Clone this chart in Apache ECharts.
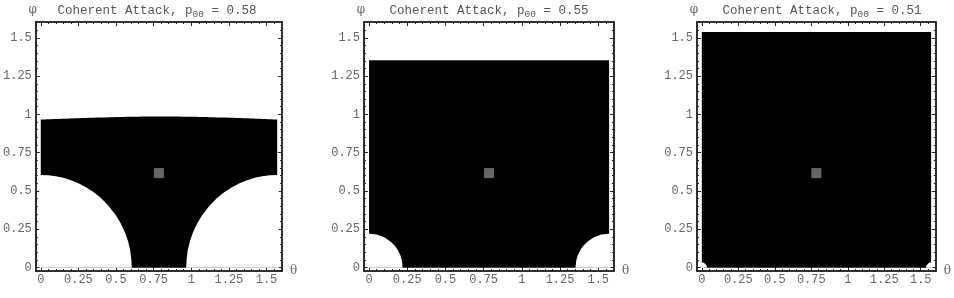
<!DOCTYPE html>
<html>
<head>
<meta charset="utf-8">
<script src="https://cdn.jsdelivr.net/npm/echarts@6/dist/echarts.min.js"></script>
<style>
  html, body { margin: 0; padding: 0; background: #fff; }
  #chart { width: 954px; height: 298px; }
</style>
</head>
<body>
<div id="chart"></div>
<script>
// ticks shared by every frame
const tickValues = [0, 0.25, 0.5, 0.75, 1, 1.25, 1.5];
const tickLabels = ["0", "0.25", "0.5", "0.75", "1", "1.25", "1.5"];
const minorTicks = [0.05, 0.1, 0.15, 0.2, 0.3, 0.35, 0.4, 0.45, 0.55, 0.6, 0.65, 0.7,
                    0.8, 0.85, 0.9, 0.95, 1.05, 1.1, 1.15, 1.2, 1.3, 1.35, 1.4, 1.45, 1.55];

const pValues = ["0.58", "0.55", "0.51"];

// [theta, phi] boundaries
const p1Top = [[0, 0.967], [0.2, 0.974], [0.4, 0.980], [0.6, 0.985], [0.785, 0.987],
               [1.0, 0.985], [1.2, 0.980], [1.4, 0.974], [1.571, 0.967]];
const p1HoleLeft = [[-0.01, 0.605], [0.05, 0.603], [0.1, 0.597], [0.15, 0.586], [0.2, 0.571],
                    [0.25, 0.551], [0.3, 0.525], [0.35, 0.493], [0.4, 0.454], [0.45, 0.404],
                    [0.5, 0.341], [0.53, 0.292], [0.56, 0.229], [0.58, 0.172], [0.595, 0.110],
                    [0.602, 0.05], [0.605, 0]];
const p1HoleRight = [[0.966, 0], [0.969, 0.05], [0.976, 0.110], [0.991, 0.172], [1.011, 0.229],
                     [1.041, 0.292], [1.071, 0.341], [1.121, 0.404], [1.171, 0.454], [1.221, 0.493],
                     [1.271, 0.525], [1.321, 0.551], [1.371, 0.571], [1.421, 0.586], [1.471, 0.597],
                     [1.521, 0.603], [1.581, 0.605]];

const p2Top = [[0, 1.353], [1.571, 1.353]];
const p2HoleLeft = [[-0.01, 0.222], [0.05, 0.216], [0.1, 0.198], [0.14, 0.171], [0.17, 0.141],
                    [0.19, 0.112], [0.205, 0.08], [0.215, 0.047], [0.22, 0]];
const p2HoleRight = [[1.351, 0], [1.356, 0.047], [1.366, 0.08], [1.381, 0.112], [1.401, 0.141],
                     [1.431, 0.171], [1.471, 0.198], [1.521, 0.216], [1.581, 0.222]];

const p3Top = [[0, 1.538], [1.571, 1.538]];
const p3HoleLeft = [[-0.01, 0.035], [0.015, 0.032], [0.025, 0.024], [0.032, 0.014], [0.035, 0]];
const p3HoleRight = [[1.536, 0], [1.539, 0.014], [1.546, 0.024], [1.556, 0.032], [1.581, 0.035]];

const marker = [[0.785, 0.617]];

const panels = [
    { top: p1Top, holes: [p1HoleLeft, p1HoleRight] },
    { top: p2Top, holes: [p2HoleLeft, p2HoleRight] },
    { top: p3Top, holes: [p3HoleLeft, p3HoleRight] }
];

const frames = [32, 364, 697];   // left edge of each frame
const frameW = 250, frameH = 249, frameTop = 22;

const mono = "'Liberation Mono', 'DejaVu Sans Mono', monospace";
const inkFrame = "#222";
const inkText = "#666";

function axisBase(g, min, max) {
    return {
        type: "value", gridIndex: g, min: min, max: max,
        splitLine: { show: false },
        axisLine: { show: true, onZero: false, lineStyle: { color: inkFrame, width: 1.5 } },
        axisLabel: { show: false }
    };
}

function makeAxes(g, dim) {
    const min = dim === "x" ? -0.033 : -0.022;
    const max = 1.603;
    const sides = dim === "x" ? ["bottom", "top"] : ["left", "right"];
    const out = [];
    sides.forEach((pos, k) => {
        const major = Object.assign(axisBase(g, min, max), {
            position: pos,
            axisTick: { show: true, inside: true, length: 4, customValues: tickValues,
                        lineStyle: { color: inkFrame, width: 1 } }
        });
        if (k === 0) {
            major.axisLabel = {
                show: true, customValues: tickValues, margin: dim === "x" ? 3 : 4,
                formatter: v => tickLabels[tickValues.indexOf(v)],
                fontFamily: mono, fontSize: 12, color: inkText
            };
            major.name = dim === "x" ? "θ" : "φ";
            major.nameLocation = "end";
            major.nameGap = dim === "x" ? 8 : 6;
            major.nameTextStyle = { fontFamily: "'DejaVu Serif', serif", fontSize: 12, color: inkText,
                                    padding: dim === "x" ? [6, 0, 0, 0] : [0, 6, 0, 0] };
        }
        const minor = Object.assign(axisBase(g, min, max), {
            position: pos,
            axisTick: { show: true, inside: true, length: 2, customValues: minorTicks,
                        lineStyle: { color: inkFrame, width: 1 } }
        });
        out.push(major, minor);
    });
    return out;
}

const grid = [], xAxis = [], yAxis = [], series = [], graphic = [];

panels.forEach((p, g) => {
    grid.push({ left: frames[g], top: frameTop, width: frameW, height: frameH });
    xAxis.push(...makeAxes(g, "x"));
    yAxis.push(...makeAxes(g, "y"));
    const ax = { xAxisIndex: g * 4, yAxisIndex: g * 4 };

    series.push(Object.assign({
        type: "line", data: p.top, symbol: "none", smooth: p.top.length > 2 ? 0.4 : false,
        lineStyle: { width: 0 }, areaStyle: { color: "#000", opacity: 1, origin: "auto" }, z: 2
    }, ax));
    p.holes.forEach(h => {
        series.push(Object.assign({
            type: "line", data: h, symbol: "none",
            lineStyle: { width: 0 }, areaStyle: { color: "#fff", opacity: 1, origin: "auto" }, z: 3
        }, ax));
    });
    series.push(Object.assign({
        type: "scatter", data: marker, symbol: "rect", symbolSize: 10,
        itemStyle: { color: "#808080" }, z: 4
    }, ax));

    graphic.push({
        type: "text", x: frames[g] + frameW / 2, y: 11,
        style: {
            text: "{a|Coherent Attack, p}{s|00}{a| = " + pValues[g] + "}",
            align: "center", verticalAlign: "middle",
            rich: {
                a: { fontFamily: mono, fontSize: 12.5, lineHeight: 16, fill: "#555" },
                s: { fontFamily: mono, fontSize: 9.5, lineHeight: 10, verticalAlign: "bottom", fill: "#555" }
            }
        }
    });
});

const chart = echarts.init(document.getElementById("chart"), null, { renderer: "canvas" });
chart.setOption({
    animation: false,
    backgroundColor: "#fff",
    grid: grid, xAxis: xAxis, yAxis: yAxis, series: series, graphic: graphic
});
</script>
</body>
</html>
